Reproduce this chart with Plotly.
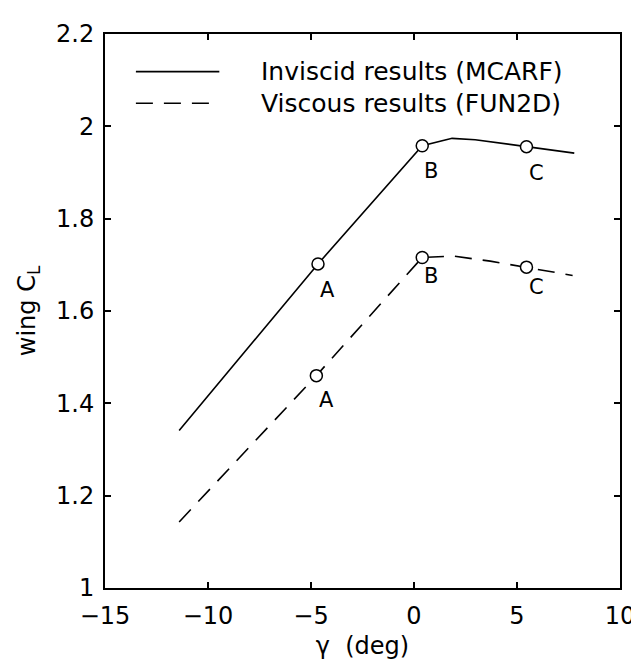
import plotly.graph_objects as go

# ---- data ----
gamma_inv = [-11.40, -4.66, 0.40, 1.85, 2.97, 5.46, 7.78]
cl_inv    = [1.341, 1.702, 1.958, 1.974, 1.971, 1.956, 1.942]
gamma_visc = [-11.40, -4.74, 0.40, 1.90, 3.70, 5.46, 7.70]
cl_visc    = [1.143, 1.460, 1.716, 1.719, 1.708, 1.695, 1.677]
case_labels = ["A", "B", "C"]
case_idx = [1, 2, 5]          # indices of the marked cases in each series
series_names = ["Inviscid results (MCARF)", "Viscous results (FUN2D)"]
x_ticks = [-15, -10, -5, 0, 5, 10]
y_ticks = [1, 1.2, 1.4, 1.6, 1.8, 2, 2.2]

FONT = "DejaVu Sans"
DASH = "17px,11px"

fig = go.Figure()
fig.add_trace(go.Scatter(x=gamma_inv, y=cl_inv, mode="lines",
                         line=dict(color="black", width=1.6), showlegend=False))
fig.add_trace(go.Scatter(x=gamma_visc, y=cl_visc, mode="lines",
                         line=dict(color="black", width=1.6, dash=DASH), showlegend=False))
for gx, gy in ((gamma_inv, cl_inv), (gamma_visc, cl_visc)):
    fig.add_trace(go.Scatter(x=[gx[i] for i in case_idx], y=[gy[i] for i in case_idx],
                             mode="markers",
                             marker=dict(symbol="circle", size=12, color="white",
                                         line=dict(color="black", width=1.5)),
                             showlegend=False))

# case labels (offset below-right of each marker)
shifts_inv = [(9, -26), (9, -25), (10, -26)]
shifts_visc = [(10, -24), (9, -19), (10, -20)]
for (gx, gy, shifts) in ((gamma_inv, cl_inv, shifts_inv), (gamma_visc, cl_visc, shifts_visc)):
    for lab, i, (dx, dy) in zip(case_labels, case_idx, shifts):
        fig.add_annotation(x=gx[i], y=gy[i], text=lab, showarrow=False,
                           xshift=dx, yshift=dy, xanchor="center", yanchor="middle",
                           font=dict(family=FONT, size=21, color="black"))

# manual legend
leg_y = [0.932, 0.875]
leg_dash = ["solid", DASH]
for name, ly, dsh in zip(series_names, leg_y, leg_dash):
    fig.add_shape(type="line", xref="paper", yref="paper", x0=0.060, x1=0.222, y0=ly, y1=ly,
                  line=dict(color="black", width=1.6, dash=dsh))
    fig.add_annotation(xref="paper", yref="paper", x=0.299, y=ly, text=name, showarrow=False,
                       xanchor="left", yanchor="middle",
                       font=dict(family=FONT, size=25, color="black"))

axis_common = dict(showline=True, linecolor="black", linewidth=2, mirror="ticks",
                   ticks="inside", ticklen=6, tickwidth=1.5, tickcolor="black",
                   showgrid=False, zeroline=False,
                   tickfont=dict(family=FONT, size=24, color="black"))

fig.update_xaxes(range=[-15, 10], tickvals=x_ticks, ticklabelstandoff=5,
                 title=dict(text="γ\u00a0\u00a0(deg)", font=dict(family=FONT, size=24, color="black"),
                            standoff=8),
                 **axis_common)
fig.update_yaxes(range=[1, 2.2], tickvals=y_ticks, ticklabelstandoff=4,
                 title=dict(text="wing C<sub>L</sub>", font=dict(family=FONT, size=24, color="black"),
                            standoff=14),
                 **axis_common)

fig.update_layout(width=639, height=659, margin=dict(l=97, r=23, t=17, b=72),
                  plot_bgcolor="white", paper_bgcolor="white",
                  font=dict(family=FONT, color="black"), showlegend=False)

fig.write_html("out.html")
